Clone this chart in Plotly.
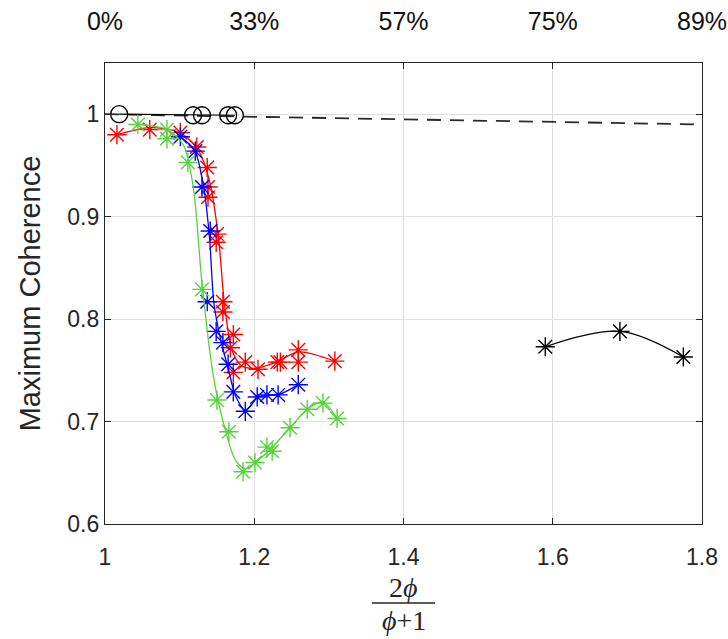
import plotly.graph_objects as go

# ---------------- data ----------------
red_x = [1.016, 1.060, 1.101, 1.123, 1.137, 1.138, 1.138, 1.150, 1.149, 1.158, 1.158,
         1.172, 1.168, 1.172, 1.188, 1.205, 1.231, 1.235, 1.259, 1.259, 1.308]
red_y = [0.980, 0.985, 0.982, 0.968, 0.948, 0.929, 0.919, 0.883, 0.875, 0.817, 0.807,
         0.785, 0.772, 0.748, 0.758, 0.751, 0.758, 0.758, 0.770, 0.758, 0.759]
red_fit_x = [1.016, 1.060, 1.100, 1.125, 1.140, 1.152, 1.160, 1.170, 1.182, 1.200, 1.230, 1.259, 1.308]
red_fit_y = [0.980, 0.987, 0.982, 0.965, 0.935, 0.880, 0.815, 0.770, 0.755, 0.752, 0.758, 0.768, 0.759]

blue_x = [1.101, 1.121, 1.130, 1.141, 1.137, 1.149, 1.158, 1.165, 1.172, 1.188, 1.204, 1.217, 1.232, 1.259]
blue_y = [0.978, 0.964, 0.929, 0.886, 0.817, 0.788, 0.777, 0.756, 0.729, 0.710, 0.724, 0.726, 0.726, 0.736]
blue_fit_x = [1.101, 1.120, 1.132, 1.140, 1.146, 1.155, 1.165, 1.175, 1.188, 1.204, 1.217, 1.232, 1.259]
blue_fit_y = [0.978, 0.965, 0.930, 0.880, 0.815, 0.780, 0.752, 0.725, 0.711, 0.723, 0.726, 0.726, 0.736]

green_x = [1.044, 1.083, 1.083, 1.111, 1.130, 1.150, 1.166, 1.185, 1.201, 1.217, 1.224,
           1.248, 1.271, 1.292, 1.311]
green_y = [0.990, 0.985, 0.976, 0.953, 0.829, 0.721, 0.690, 0.651, 0.660, 0.675, 0.671,
           0.694, 0.712, 0.718, 0.703]
green_fit_x = [1.044, 1.083, 1.105, 1.118, 1.130, 1.145, 1.160, 1.175, 1.188, 1.205, 1.224, 1.248, 1.271, 1.292, 1.311]
green_fit_y = [0.990, 0.985, 0.970, 0.930, 0.835, 0.745, 0.695, 0.662, 0.654, 0.662, 0.675, 0.694, 0.712, 0.719, 0.703]

black_x = [1.590, 1.690, 1.775]
black_y = [0.773, 0.788, 0.763]

circle_x = [1.019, 1.118, 1.130, 1.165, 1.174]
circle_y = [1.000, 0.999, 0.999, 0.999, 0.999]

ref_x = [1.0, 1.8]
ref_y = [1.0, 0.990]

x_ticks = [1.0, 1.2, 1.4, 1.6, 1.8]
x_tick_labels = ["1", "1.2", "1.4", "1.6", "1.8"]
top_tick_labels = ["0%", "33%", "57%", "75%", "89%"]
y_ticks = [0.6, 0.7, 0.8, 0.9, 1.0]
y_tick_labels = ["0.6", "0.7", "0.8", "0.9", "1"]

RED = "#FF0000"
BLUE = "#0000FF"
GREEN = "#55D33A"
BLACK = "#000000"
FONT = "Liberation Sans, Arial, sans-serif"
SERIF = "Liberation Serif, DejaVu Serif, serif"

fig = go.Figure()

# reference dashed line
fig.add_trace(go.Scatter(x=ref_x, y=ref_y, mode="lines",
                         line=dict(color="#2a2a2a", width=1.8, dash="14px,9px"),
                         showlegend=False, hoverinfo="skip"))
# circles
fig.add_trace(go.Scatter(x=circle_x, y=circle_y, mode="lines+markers",
                         line=dict(color=BLACK, width=1.2),
                         marker=dict(symbol="circle-open", size=17, color=BLACK,
                                     line=dict(width=1.3, color=BLACK)),
                         showlegend=False))

def add_series(fx, fy, px, py, color):
    fig.add_trace(go.Scatter(x=fx, y=fy, mode="lines",
                             line=dict(color=color, width=1.3, shape="spline", smoothing=0.8),
                             showlegend=False, hoverinfo="skip"))
    fig.add_trace(go.Scatter(x=px, y=py, mode="markers",
                             marker=dict(symbol="asterisk-open", size=16, color=color,
                                         line=dict(width=1.4, color=color)),
                             showlegend=False))

add_series(red_fit_x, red_fit_y, red_x, red_y, RED)
add_series(blue_fit_x, blue_fit_y, blue_x, blue_y, BLUE)
add_series(green_fit_x, green_fit_y, green_x, green_y, GREEN)

# black series
fig.add_trace(go.Scatter(x=black_x, y=black_y, mode="lines+markers",
                         line=dict(color=BLACK, width=1.3, shape="spline"),
                         marker=dict(symbol="asterisk-open", size=16, color=BLACK,
                                     line=dict(width=1.4, color=BLACK)),
                         showlegend=False))

# dummy trace for the top axis
fig.add_trace(go.Scatter(x=x_ticks, y=[None] * len(x_ticks), xaxis="x2", mode="markers",
                         showlegend=False, hoverinfo="skip"))

fig.update_layout(
    width=728, height=639,
    margin=dict(l=105, r=26, t=63, b=115),
    paper_bgcolor="white", plot_bgcolor="white",
    font=dict(family=FONT, size=23, color="#262626"),
    xaxis=dict(range=[1.0, 1.8], tickvals=x_ticks, ticktext=x_tick_labels,
               showgrid=True, gridcolor="#DEDEDE", gridwidth=1,
               showline=True, linecolor="#262626", linewidth=1.2, mirror="ticks",
               ticks="inside", ticklen=6, tickcolor="#262626", ticklabelstandoff=12,
               zeroline=False, automargin=False, tickfont=dict(size=23, color="#262626")),
    xaxis2=dict(range=[1.0, 1.8], overlaying="x", side="top", anchor="y",
                tickvals=x_ticks, ticktext=top_tick_labels, showgrid=False,
                showline=False, ticks="", zeroline=False, ticklabelstandoff=27,
                automargin=False, tickfont=dict(size=25, color="#111111")),
    yaxis=dict(range=[0.6, 1.05], tickvals=y_ticks, ticktext=y_tick_labels,
               showgrid=True, gridcolor="#DEDEDE", gridwidth=1,
               showline=True, linecolor="#262626", linewidth=1.2, mirror="ticks",
               ticks="inside", ticklen=6, tickcolor="#262626",
               zeroline=False, automargin=False, tickfont=dict(size=23, color="#262626"),
               title=dict(text="Maximum Coherence", font=dict(size=29, color="#262626"), standoff=18)),
)

# x-axis title as a fraction: 2φ / (φ+1)
fig.add_annotation(xref="paper", yref="paper", x=0.5, y=-0.137, yanchor="middle",
                   text="2<i>ϕ</i>", showarrow=False,
                   font=dict(family=SERIF, size=28, color="#262626"))
fig.add_annotation(xref="paper", yref="paper", x=0.5, y=-0.210, yanchor="middle",
                   text="<i>ϕ</i>+1", showarrow=False,
                   font=dict(family=SERIF, size=28, color="#262626"))
fig.add_shape(type="line", xref="paper", yref="paper", x0=0.447, x1=0.553, y0=-0.1715, y1=-0.1715,
              line=dict(color="#262626", width=1.4))

fig.write_html("out.html")
